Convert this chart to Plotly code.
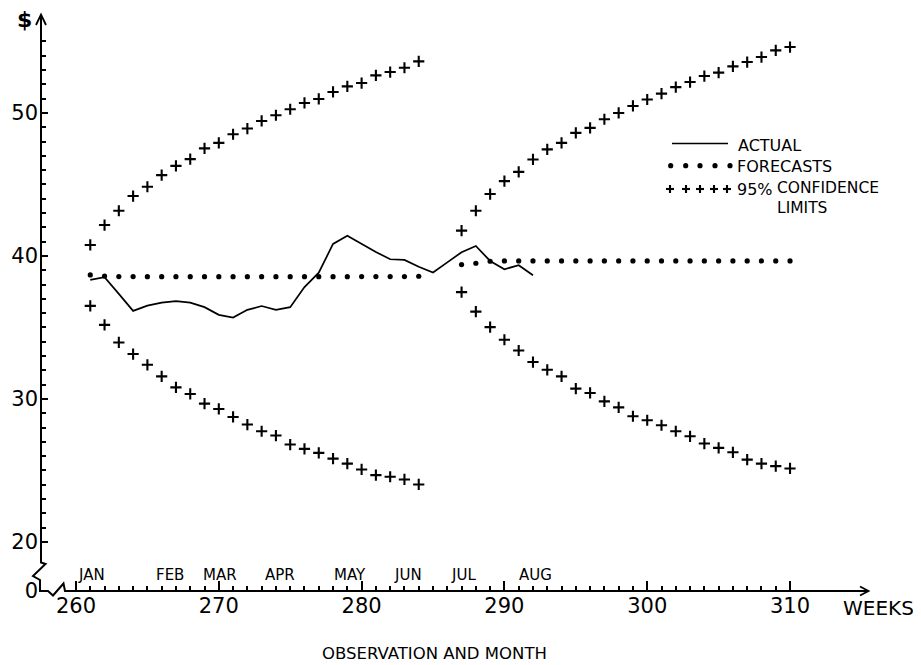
import plotly.graph_objects as go

# ---------------- data ----------------
ACT_WEEKS = list(range(261, 293))
ACTUAL = [38.33, 38.51, 37.35, 36.16, 36.53, 36.74, 36.84, 36.74, 36.42, 35.88,
          35.69, 36.23, 36.50, 36.23, 36.42, 37.82, 38.83, 40.84, 41.42, 40.84,
          40.28, 39.77, 39.72, 39.25, 38.84, 39.55, 40.26, 40.70, 39.65, 39.07,
          39.35, 38.65]

P1_WEEKS = list(range(261, 285))
P2_WEEKS = list(range(287, 311))

FORECAST_1 = [38.67, 38.60, 38.56, 38.56, 38.55, 38.55, 38.55, 38.55, 38.55, 38.55,
              38.55, 38.55, 38.55, 38.55, 38.55, 38.55, 38.55, 38.55, 38.55, 38.56,
              38.56, 38.56, 38.56, 38.58]
FORECAST_2 = [39.40, 39.49, 39.63, 39.65, 39.65, 39.65, 39.65, 39.65, 39.65, 39.65,
              39.65, 39.65, 39.65, 39.65, 39.65, 39.65, 39.65, 39.65, 39.65, 39.65,
              39.65, 39.65, 39.65, 39.65]

UPPER_1 = [40.77, 42.16, 43.16, 44.19, 44.84, 45.65, 46.30, 46.77, 47.52, 47.91,
           48.51, 48.91, 49.44, 49.84, 50.26, 50.70, 50.98, 51.47, 51.86, 52.09,
           52.63, 52.86, 53.16, 53.61]
LOWER_1 = [36.51, 35.18, 33.95, 33.14, 32.39, 31.58, 30.81, 30.35, 29.67, 29.30,
           28.74, 28.21, 27.74, 27.44, 26.81, 26.51, 26.23, 25.83, 25.48, 25.07,
           24.67, 24.56, 24.37, 24.02]
UPPER_2 = [41.77, 43.16, 44.33, 45.23, 45.88, 46.75, 47.45, 47.91, 48.61, 48.96,
           49.56, 50.00, 50.49, 50.94, 51.35, 51.81, 52.16, 52.58, 52.82, 53.26,
           53.56, 53.91, 54.38, 54.61]
LOWER_2 = [37.47, 36.11, 35.02, 34.14, 33.39, 32.58, 32.04, 31.58, 30.72, 30.42,
           29.83, 29.41, 28.79, 28.51, 28.16, 27.74, 27.39, 26.88, 26.58, 26.27,
           25.76, 25.48, 25.30, 25.14]

X_TICKS = [260, 270, 280, 290, 300, 310]
X_TICK_TEXT = ["260", "270", "280", "290", "300", "310"]
Y_TICKS = [20, 30, 40, 50]
Y_TICK_TEXT = ["20", "30", "40", "50"]
Y_ZERO = 16.6          # broken-axis position of the "0" label
MONTHS = ["JAN", "FEB", "MAR", "APR", "MAY", "JUN", "JUL", "AUG"]
MONTH_WEEKS = [261.1, 266.6, 270.1, 274.3, 279.2, 283.25, 287.1, 292.2]

# ---------------- layout geometry ----------------
PAGE_W, PAGE_H = 921, 665
OFF = 8                                   # default body margin of the page
W, H = PAGE_W - OFF, PAGE_H - OFF
L, R, T, B = 41, 880, 10, 591             # plot area in page pixels
XR = [257.55, 316.3]
YR = [16.57, 57.2]
FONT = "DejaVu Sans"


def fx(px):
    return (px - L) / (R - L)


def fy(py):
    return (B - py) / (B - T)


fig = go.Figure()

cross = dict(symbol="cross-thin", size=8, color="black",
             line=dict(color="black", width=2.1))
dot = dict(symbol="circle", size=5.2, color="black")

for wk, up, lo in [(P1_WEEKS, UPPER_1, LOWER_1), (P2_WEEKS, UPPER_2, LOWER_2)]:
    fig.add_trace(go.Scatter(x=wk, y=up, mode="markers", marker=cross,
                             showlegend=False, hoverinfo="skip"))
    fig.add_trace(go.Scatter(x=wk, y=lo, mode="markers", marker=cross,
                             showlegend=False, hoverinfo="skip"))

for wk, fc in [(P1_WEEKS, FORECAST_1), (P2_WEEKS, FORECAST_2)]:
    fig.add_trace(go.Scatter(x=wk, y=fc, mode="markers", marker=dot,
                             showlegend=False, hoverinfo="skip"))

fig.add_trace(go.Scatter(x=ACT_WEEKS, y=ACTUAL, mode="lines",
                         line=dict(color="black", width=1.7),
                         showlegend=False, hoverinfo="skip"))

shapes = []


def path(points, width=2.0):
    d = "M " + " L ".join(f"{fx(p[0]):.5f},{fy(p[1]):.5f}" for p in points)
    shapes.append(dict(type="path", xref="paper", yref="paper", path=d,
                       line=dict(color="black", width=width)))


# axes with breaks
path([(41, 15), (41, 562.5), (45.5, 564), (33, 576), (40, 580), (40, 591),
      (48, 591), (53, 595.5), (63.5, 583.5), (65, 591), (868, 591)])
# arrows
path([(36, 25), (41, 14.5), (46, 25)], width=1.8)
path([(860, 586.5), (868.5, 591), (860, 595.5)], width=1.8)

# legend samples
path([(672, 143.5), (728, 143.5)], width=1.6)
for px in [670.7, 685.7, 700, 715, 730]:
    r = 2.6
    shapes.append(dict(type="circle", xref="paper", yref="paper",
                       x0=fx(px - r), x1=fx(px + r), y0=fy(165.7 + r), y1=fy(165.7 - r),
                       fillcolor="black", line=dict(width=0)))
for px in [670, 686, 700, 714, 727]:
    path([(px - 4, 189), (px + 4, 189)], width=2.1)
    path([(px, 185), (px, 193)], width=2.1)

ann = []


def text(s, px, py, size, xanchor="center", bold=False, align="center"):
    ann.append(dict(text=f"<b>{s}</b>" if bold else s, xref="paper", yref="paper",
                    x=fx(px), y=fy(py), xanchor=xanchor, yanchor="middle", align=align,
                    showarrow=False, font=dict(family=FONT, size=size, color="black")))


text("ACTUAL", 736, 145, 16, xanchor="left")
text("FORECASTS", 735, 166, 16, xanchor="left")
text("95%", 735, 189, 16, xanchor="left")
text("CONFIDENCE<br>LIMITS", 775, 197.5, 15.5, xanchor="left", align="left")
text("$", 24.5, 20, 22, bold=True)
text("WEEKS", 878, 608, 20)
text("OBSERVATION AND MONTH", 434, 653, 16.5)

for m, wk in zip(MONTHS, MONTH_WEEKS):
    ann.append(dict(text=m, xref="x", yref="paper", x=wk, y=fy(575),
                    xanchor="center", yanchor="middle", showarrow=False,
                    font=dict(family=FONT, size=15, color="black")))

fig.update_layout(
    width=W, height=H,
    margin=dict(l=L - OFF, r=W - (R - OFF), t=T - OFF, b=H - (B - OFF), pad=0),
    paper_bgcolor="white", plot_bgcolor="white",
    shapes=shapes, annotations=ann,
    xaxis=dict(range=XR, showgrid=False, zeroline=False, showline=False,
               tickmode="array", tickvals=X_TICKS, ticktext=X_TICK_TEXT,
               ticks="inside", ticklen=10, tickwidth=1.5, tickcolor="black",
               tickfont=dict(family=FONT, size=21, color="black"),
               minor=dict(tickmode="array",
                          tickvals=[w for w in range(260, 311) if w % 10],
                          ticks="inside", ticklen=5.5, tickwidth=1.5, tickcolor="black")),
    yaxis=dict(range=YR, showgrid=False, zeroline=False, showline=False,
               tickmode="array", tickvals=[Y_ZERO] + Y_TICKS,
               ticktext=["0"] + Y_TICK_TEXT,
               ticks="inside", ticklen=7, tickwidth=1.5, tickcolor="black",
               ticklabelstandoff=2,
               tickfont=dict(family=FONT, size=21, color="black"),
               minor=dict(tickmode="array",
                          tickvals=[v for v in range(21, 56) if v % 10],
                          ticks="inside", ticklen=4.5, tickwidth=1.5, tickcolor="black")),
)

fig.write_html("out.html")
